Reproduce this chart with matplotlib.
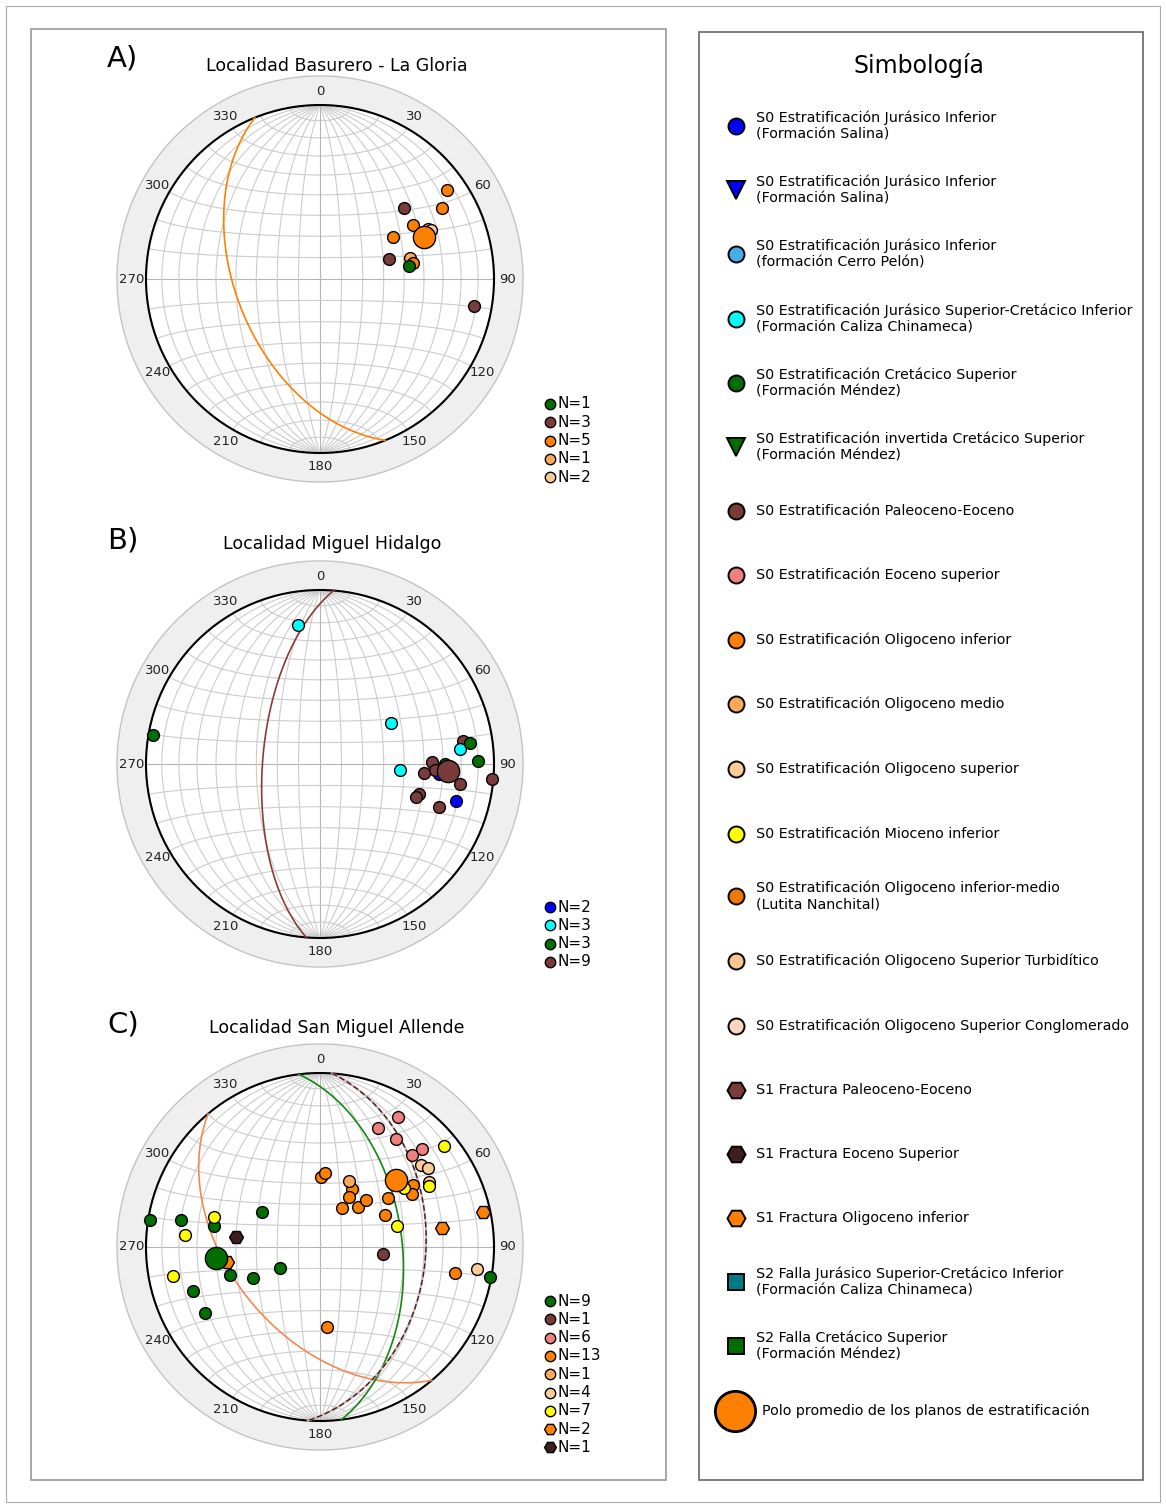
import numpy as np
import matplotlib
matplotlib.use("Agg")
import matplotlib.pyplot as plt
from matplotlib.patches import Wedge, Circle, Rectangle

a_green = [(82, 47)]
a_brown = [(50, 37), (74, 56), (100, 11)]
a_orange = [(55, 12), (60, 20), (60, 38), (60, 50), (80, 45)]
a_medio = [(77, 46)]
a_superior = [(65, 32), (66, 31)]
a_mean = [(68, 36)]
a_plane = (248, 50)
a_labels = ["N=1", "N=3", "N=5", "N=1", "N=2"]

b_blue = [(95, 32), (105, 20)]
b_cyan = [(351, 20), (60, 51), (84, 20), (94, 52)]
b_green = [(280, 3), (82, 14), (89, 10), (90, 29)]
b_brown = [(81, 18), (89, 36), (93, 34), (95, 40), (98, 20),
           (95, 1), (107, 40), (109, 41), (110, 28)]
b_mean = [(93, 27)]
b_plane = (274.5, 63)
b_labels = ["N=2", "N=3", "N=3", "N=9"]

c_green = [(279, 1), (281, 20), (281, 38), (301, 58), (253, 45), (245, 55),
           (242, 69), (251, 24), (240, 25), (100, 1)]
c_brown = [(96, 60)]
c_pink = [(31, 14), (26, 25), (35, 25), (46, 20), (45, 26)]
c_orange = [(1, 57), (4, 55), (29, 59), (30, 63), (29, 69), (44, 64), (44, 59),
            (54, 50), (64, 56), (56, 36), (60, 39), (101, 22), (175, 52)]
c_medio = [(24, 56)]
c_superior = [(51, 26), (54, 24), (59, 28), (98, 10)]
c_yellow = [(286, 37), (275, 23), (259, 15), (51, 9), (61, 29), (55, 41), (75, 52)]
c_hex_orange = [(261, 45), (78, 5), (81, 30)]
c_hex_dark = [(277, 50)]
c_mean_orange = [(48.5, 41.5)]
c_mean_green = [(264, 39.5)]
c_plane_orange = (230, 48)
c_plane_green = (83, 51)
c_plane_frac = (94, 39)
c_labels = ["N=9", "N=1", "N=6", "N=13", "N=1", "N=4", "N=7", "N=2", "N=1"]

titles = ["Localidad Basurero - La Gloria", "Localidad Miguel Hidalgo",
          "Localidad San Miguel Allende"]
panel_tags = ["A)", "B)", "C)"]

# colours
GREEN = "#006e00"
BROWN = "#7a3b3b"
PINK = "#f08080"
ORANGE = "#ff8000"
MEDIO = "#fbaa5c"
SUPERIOR = "#fdcb98"
YELLOW = "#ffff00"
DARK = "#3f1e1e"
CYAN = "#00ffff"
BLUE = "#0000ff"
LIGHTBLUE = "#45aee8"

symb_labels = [
    "S0 Estratificación Jurásico Inferior\n(Formación Salina)",
    "S0 Estratificación Jurásico Inferior\n(Formación Salina)",
    "S0 Estratificación Jurásico Inferior\n(formación Cerro Pelón)",
    "S0 Estratificación Jurásico Superior-Cretácico Inferior\n(Formación Caliza Chinameca)",
    "S0 Estratificación Cretácico Superior\n(Formación Méndez)",
    "S0 Estratificación invertida Cretácico Superior\n(Formación Méndez)",
    "S0 Estratificación Paleoceno-Eoceno",
    "S0 Estratificación Eoceno superior",
    "S0 Estratificación Oligoceno inferior",
    "S0 Estratificación Oligoceno medio",
    "S0 Estratificación Oligoceno superior",
    "S0 Estratificación Mioceno inferior",
    "S0 Estratificación Oligoceno inferior-medio\n(Lutita Nanchital)",
    "S0 Estratificación Oligoceno Superior Turbidítico",
    "S0 Estratificación Oligoceno Superior Conglomerado",
    "S1 Fractura Paleoceno-Eoceno",
    "S1 Fractura Eoceno Superior",
    "S1 Fractura Oligoceno inferior",
    "S2 Falla Jurásico Superior-Cretácico Inferior\n(Formación Caliza Chinameca)",
    "S2 Falla Cretácico Superior\n(Formación Méndez)",
    "Polo promedio de los planos de estratificación",
]
symb_markers = ["o", "v", "o", "o", "o", "v", "o", "o", "o", "o", "o", "o", "o",
                "o", "o", "H", "H", "H", "s", "s", "o"]
symb_colors = [BLUE, BLUE, LIGHTBLUE, CYAN, GREEN, GREEN, BROWN, PINK, ORANGE,
               MEDIO, SUPERIOR, YELLOW, "#f07800", "#fcc48f", "#fdd5c0",
               BROWN, DARK, ORANGE, "#007b83", GREEN, ORANGE]


def to_xy(e, n, d):
    # lower hemisphere equal-area (Schmidt), primitive radius 1
    d = np.clip(d, 0, None)
    k = 1 / np.sqrt(1 + d)
    return e * k, n * k


def pole_xy(pts):
    tr = np.radians([p[0] for p in pts])
    pl = np.radians([p[1] for p in pts])
    return to_xy(np.cos(pl) * np.sin(tr), np.cos(pl) * np.cos(tr), np.sin(pl))


def plane_xy(dipdir, dip):
    t = np.linspace(0, np.pi, 300)
    s = np.radians(dipdir - 90)
    dd = np.radians(dipdir)
    dp = np.radians(dip)
    e = np.cos(t) * np.sin(s) + np.sin(t) * np.sin(dd) * np.cos(dp)
    n = np.cos(t) * np.cos(s) + np.sin(t) * np.cos(dd) * np.cos(dp)
    d = np.sin(t) * np.sin(dp)
    return to_xy(e, n, d)


def draw_net(ax):
    ax.add_patch(Wedge((0, 0), 1.167, 0, 360, width=0.167, fc="#efefef",
                       ec="#c4c4c4", lw=1, zorder=0))
    t = np.linspace(0, np.pi, 181)
    for a in range(10, 180, 10):
        ar = np.radians(a)
        col = "#b4b4b4" if a == 90 else "#cccccc"
        x, y = to_xy(np.sin(t) * np.cos(ar), np.cos(t), np.sin(t) * np.sin(ar))
        ax.plot(x, y, color=col, lw=0.8, zorder=1)
        x, y = to_xy(np.sin(ar) * np.cos(t), np.cos(ar) * np.ones_like(t),
                     np.sin(ar) * np.sin(t))
        ax.plot(x, y, color=col, lw=0.8, zorder=1)
    ax.add_patch(Circle((0, 0), 1, fill=False, ec="black", lw=1.5, zorder=2))
    for az in range(0, 360, 30):
        r = np.radians(az)
        ax.text(1.08 * np.sin(r), 1.08 * np.cos(r), str(az), ha="center",
                va="center", fontsize=9.5, color="#222222")
    ax.set_xlim(-1.2, 1.2)
    ax.set_ylim(-1.2, 1.2)
    ax.axis("off")


def draw_poles(ax, pts, color, marker="o", ms=8.5, mew=1.0):
    x, y = pole_xy(pts)
    ax.plot(x, y, ls="none", marker=marker, ms=ms, mfc=color, mec="black",
            mew=mew, zorder=4)


fig = plt.figure(figsize=(11.66, 15.08), dpi=100)
W, H = 1166, 1508

bg = fig.add_axes([0, 0, 1, 1], zorder=0)
bg.set_xlim(0, W)
bg.set_ylim(H, 0)
bg.axis("off")
bg.add_patch(Rectangle((6, 6), 1154, 1496, fill=False, ec="#aaaaaa", lw=0.8))
bg.add_patch(Rectangle((31, 29), 635, 1451, fill=False, ec="#999999", lw=1.2))
bg.add_patch(Rectangle((699, 32), 444, 1448, fill=False, ec="#666666", lw=1.2))

centers = [(320, 279), (320, 764), (320, 1247)]
R = 174
nets = []
for cx, cy in centers:
    half = 1.2 * R
    ax = fig.add_axes([(cx - half) / W, 1 - (cy + half) / H, 2 * half / W, 2 * half / H],
                      zorder=1)
    draw_net(ax)
    nets.append(ax)

# A) Basurero - La Gloria
ax = nets[0]
x, y = plane_xy(*a_plane)
ax.plot(x, y, color=ORANGE, lw=1.2, zorder=3)
draw_poles(ax, a_superior, SUPERIOR)
draw_poles(ax, a_medio, MEDIO)
draw_poles(ax, a_orange, ORANGE)
draw_poles(ax, a_brown, BROWN)
draw_poles(ax, a_green, GREEN)
draw_poles(ax, a_mean, ORANGE, ms=16)

# B) Miguel Hidalgo
ax = nets[1]
x, y = plane_xy(*b_plane)
ax.plot(x, y, color="#8b3a3a", lw=1.2, zorder=3)
draw_poles(ax, b_blue, BLUE)
draw_poles(ax, b_brown, BROWN)
draw_poles(ax, b_cyan, CYAN)
draw_poles(ax, b_green, GREEN)
draw_poles(ax, b_mean, BROWN, ms=16)

# C) San Miguel Allende
ax = nets[2]
x, y = plane_xy(*c_plane_orange)
ax.plot(x, y, color="#f5874f", lw=1.2, zorder=3)
x, y = plane_xy(*c_plane_green)
ax.plot(x, y, color="#118811", lw=1.2, zorder=3)
x, y = plane_xy(*c_plane_frac)
ax.plot(x, y, color="#d8b8b8", lw=1.6, zorder=3)
ax.plot(x, y, color=DARK, lw=1.0, ls=(0, (4, 2)), zorder=3)
draw_poles(ax, c_green, GREEN)
draw_poles(ax, c_brown, BROWN)
draw_poles(ax, c_pink, PINK)
draw_poles(ax, c_orange, ORANGE)
draw_poles(ax, c_medio, MEDIO)
draw_poles(ax, c_superior, SUPERIOR)
draw_poles(ax, c_yellow, YELLOW)
draw_poles(ax, c_hex_orange, ORANGE, marker="H", ms=10)
draw_poles(ax, c_hex_dark, DARK, marker="H", ms=10)
draw_poles(ax, c_mean_orange, ORANGE, ms=16)
draw_poles(ax, c_mean_green, GREEN, ms=16)

# titles and panel tags
title_pos = [(337, 66), (332, 544), (337, 1028)]
tag_pos = [(107, 58), (107, 540), (107, 1024)]
for (tx, ty), title in zip(title_pos, titles):
    bg.text(tx, ty, title, ha="center", va="center", fontsize=12.5)
for (tx, ty), tag in zip(tag_pos, panel_tags):
    bg.text(tx, ty, tag, ha="left", va="center", fontsize=21)

# per-net count legends
legend_sets = [
    (404, a_labels, [GREEN, BROWN, ORANGE, MEDIO, SUPERIOR], ["o"] * 5),
    (907, b_labels, [BLUE, CYAN, GREEN, BROWN], ["o"] * 4),
    (1301, c_labels, [GREEN, BROWN, PINK, ORANGE, MEDIO, SUPERIOR, YELLOW, ORANGE, DARK],
     ["o"] * 7 + ["H", "H"]),
]
for y0, labels, cols, marks in legend_sets:
    for i, (lab, col, mk) in enumerate(zip(labels, cols, marks)):
        yy = y0 + i * 18.3
        bg.plot(550, yy, marker=mk, ms=7.5 if mk == "o" else 8.5, mfc=col,
                mec="black", mew=1.0, ls="none")
        bg.text(557.5, yy, lab, ha="left", va="center", fontsize=11)

# symbology box
bg.text(919, 66, "Simbología", ha="center", va="center", fontsize=17)
symb_y = [126, 190, 254, 319, 383, 447, 511, 575, 640, 704, 769, 834, 896,
          961, 1026, 1090, 1154, 1218, 1282, 1346, 1411]
for i, (lab, mk, col, yy) in enumerate(zip(symb_labels, symb_markers, symb_colors, symb_y)):
    if i == len(symb_labels) - 1:
        bg.plot(735, yy, marker="o", ms=29, mfc=col, mec="black", mew=2, ls="none")
        bg.text(762, yy, lab, ha="left", va="center", fontsize=10.3)
        continue
    size = {"o": 11.5, "v": 13, "H": 13, "s": 11}[mk]
    bg.plot(736, yy, marker=mk, ms=size, mfc=col, mec="black", mew=1.4, ls="none")
    bg.text(756, yy, lab, ha="left", va="center", fontsize=10.3, linespacing=1.15)

fig.savefig("out.png", dpi=100)
